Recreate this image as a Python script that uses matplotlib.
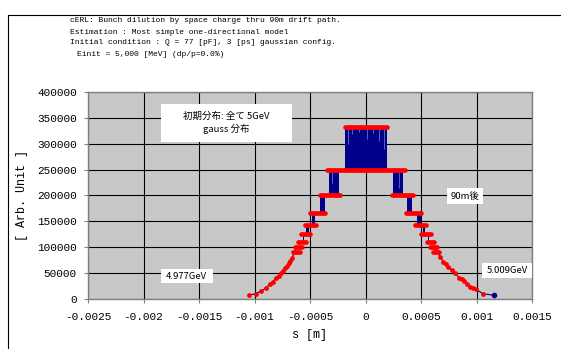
import matplotlib
matplotlib.use("Agg")
import matplotlib.pyplot as plt
from matplotlib.lines import Line2D
from matplotlib.patches import Rectangle


# ====================== DATA ======================

title_lines = [
    "cERL: Bunch dilution by space charge thru 90m drift path.",
    "Estimation : Most simple one-directional model",
    "Initial condition : Q = 77 [pF], 3 [ps] gaussian config.",
    "Einit = 5,000 [MeV] (dp/p=0.0%)",
]

# red plateaus (initial distribution): level, s start, s end
plateau_level = [333333, 250000,
                 200000, 200000, 166667, 166667, 142857, 142857,
                 125000, 125000, 111111, 111111, 100000, 100000,
                 90909, 90909]
plateau_start = [-0.000189, -0.000347,
                 -0.000414, 0.000237, -0.000497, 0.000366, -0.000549, 0.000447,
                 -0.000578, 0.000501, -0.000611, 0.000558, -0.000638, 0.000582,
                 -0.000653, 0.000612]
plateau_end = [0.000198, 0.000357,
               -0.000228, 0.000426, -0.000362, 0.000498, -0.000444, 0.000546,
               -0.000497, 0.000591, -0.000536, 0.000621, -0.000569, 0.000647,
               -0.000593, 0.000665]

# red tail points
left_tail_s = [-0.00105, -0.00099, -0.00094, -0.00090, -0.000863, -0.000836,
               -0.000809, -0.000782, -0.000761, -0.000743, -0.000722,
               -0.000707, -0.000689, -0.000677, -0.000662]
left_tail_y = [7000, 10500, 15500, 20700, 28400, 33400, 39900, 45000, 49700,
               54700, 59300, 63800, 69000, 73400, 79800]
right_tail_s = [0.000672, 0.000701, 0.000725, 0.000746, 0.000777, 0.000807,
                0.000845, 0.000865, 0.000888, 0.000915, 0.000942, 0.000970,
                0.000996, 0.001056]
right_tail_y = [81700, 72100, 67000, 62400, 56000, 49300, 41500, 38000,
                34800, 29000, 23800, 21000, 18700, 10500]

# blue (after 90m): zig-zag bands between levels, s start, s end, low, high
band_start = [-0.000183, -0.000333, 0.000252, -0.000414, 0.000372,
              -0.000486, 0.000468, -0.000533, 0.000516, -0.000565, 0.000560]
band_end = [0.000192, -0.000237, 0.000342, -0.000369, 0.000417,
            -0.000459, 0.000498, -0.000513, 0.000537, -0.000550, 0.000575]
band_low = [250000, 200000, 200000, 166667, 166667,
            142857, 142857, 125000, 125000, 111111, 111111]
band_high = [333333, 250000, 250000, 200000, 200000,
             166667, 166667, 142857, 142857, 125000, 125000]

# light gaps inside the dense blue zig-zag
gap_s = [-0.000160, -0.000120, -0.000060, 0.000010, 0.000070, 0.000120,
         0.000165, -0.000300, 0.000300]
gap_top = [333333, 333333, 333333, 333333, 333333, 333333, 333333,
           250000, 250000]
gap_bottom = [300000, 318000, 322000, 310000, 320000, 305000, 290000,
              225000, 215000]

# blue tails
blue_left_s = [-0.00105, -0.00099, -0.00094, -0.00090, -0.000863, -0.000836,
               -0.000809, -0.000782, -0.000761, -0.000743, -0.000722,
               -0.000707, -0.000689, -0.000677, -0.000662, -0.000647,
               -0.000620]
blue_left_y = [7000, 10500, 15500, 20700, 28400, 33400, 39900, 45000, 49700,
               54700, 59300, 63800, 69000, 73400, 79800, 86400, 100000]
blue_right_s = [0.000620, 0.000660, 0.000672, 0.000701, 0.000725, 0.000746,
                0.000777, 0.000807, 0.000845, 0.000865, 0.000888, 0.000915,
                0.000942, 0.000970, 0.000996, 0.001056, 0.001157]
blue_right_y = [100000, 86000, 81700, 72100, 67000, 62400, 56000, 49300,
                41500, 38000, 34800, 29000, 23800, 21000, 18700, 10500, 7000]

x_ticks = [-0.0025, -0.002, -0.0015, -0.001, -0.0005, 0, 0.0005, 0.001, 0.0015]
x_ticklabels = ["-0.0025", "-0.002", "-0.0015", "-0.001", "-0.0005", "0",
                "0.0005", "0.001", "0.0015"]
y_ticks = [0, 50000, 100000, 150000, 200000, 250000, 300000, 350000, 400000]


# ====================== PLOT ======================

RED = "#FF0000"
BLUE = "#00008B"
MONO = "Liberation Mono"
JP = ["Noto Sans CJK JP", "DejaVu Sans"]

W, H = 561, 349
fig = plt.figure(figsize=(W / 100, H / 100), dpi=100, facecolor="white")

# outer chart frame (runs off the right and bottom edge)
fig.add_artist(Line2D([8 / W, 8 / W], [1 - 15 / H, -0.1], color="black", lw=0.8))
fig.add_artist(Line2D([8 / W, 1.1], [1 - 15 / H, 1 - 15 / H], color="black", lw=0.8))

# title block
title_x = [70, 70, 70, 77]
for i, line in enumerate(title_lines):
    fig.text(title_x[i] / W, 1 - (21 + 11 * i) / H, line, family=MONO,
             fontsize=5.8, va="center", ha="left")

ax = fig.add_axes([88 / W, 1 - 299 / H, 444 / W, 207 / H])
ax.set_facecolor("#C8C8C8")

ax.set_xlim(-0.0025, 0.0015)
ax.set_ylim(0, 400000)
ax.set_xticks(x_ticks)
ax.set_xticklabels(x_ticklabels)
ax.set_yticks(y_ticks)
ax.grid(True, color="black", lw=0.8)
ax.set_axisbelow(True)

for sp in ax.spines.values():
    sp.set_color("#808080")
    sp.set_linewidth(1.0)

ax.tick_params(axis="y", direction="out", length=3, color="#808080", pad=5)
ax.tick_params(axis="x", direction="out", length=3, color="#808080", pad=6)
for lab in ax.get_xticklabels() + ax.get_yticklabels():
    lab.set_family(MONO)
    lab.set_fontsize(8)

ax.set_xlabel("s [m]", family=MONO, fontsize=8.5)
ax.set_ylabel("[ Arb. Unit ]", family=MONO, fontsize=8.5)
ax.xaxis.set_label_coords(0.5, -0.145)
ax.yaxis.set_label_coords(-0.135, 0.5)

# blue: after 90m
for s0, s1, lo, hi in zip(band_start, band_end, band_low, band_high):
    ax.fill_between([s0, s1], lo, hi, color=BLUE, lw=0, zorder=3)
ax.vlines(gap_s, gap_bottom, gap_top, colors="#7070C0", lw=0.6, zorder=3)
ax.plot(blue_left_s, blue_left_y, color=BLUE, lw=0.8, zorder=3)
ax.plot(blue_right_s, blue_right_y, color=BLUE, lw=0.8, zorder=3)
ax.plot(blue_right_s[-1], blue_right_y[-1], "o", color=BLUE, ms=3, zorder=3)

# red: initial distribution
ax.hlines(plateau_level, plateau_start, plateau_end, colors=RED, lw=3.4,
          zorder=4, capstyle="round")
ax.scatter(left_tail_s, left_tail_y, s=12, color=RED, lw=0, zorder=4)
ax.scatter(right_tail_s, right_tail_y, s=12, color=RED, lw=0, zorder=4)

# text boxes (axes fraction)
boxes = [
    (0.1644, 0.7585, 0.4595, 0.942, "初期分布: 全て 5GeV\ngauss 分布"),
    (0.1637, 0.0757, 0.2806, 0.1435, "4.977GeV"),
    (0.8092, 0.4589, 0.8903, 0.5348, "90m後"),
    (0.8867, 0.1014, 1.0, 0.1725, "5.009GeV"),
]
for x0, y0, x1, y1, txt in boxes:
    ax.add_patch(Rectangle((x0, y0), x1 - x0, y1 - y0, transform=ax.transAxes,
                           facecolor="white", edgecolor="none", zorder=5))
    ax.text((x0 + x1) / 2, (y0 + y1) / 2, txt, transform=ax.transAxes,
            family=JP, fontsize=6.8, ha="center", va="center",
            linespacing=1.3, zorder=6)

fig.savefig("out.png", dpi=100, facecolor="white")
